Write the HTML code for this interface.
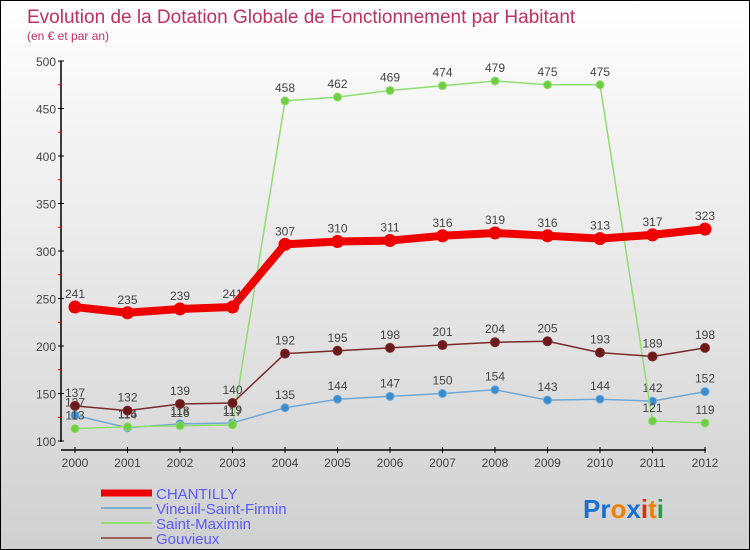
<!DOCTYPE html>
<html><head><meta charset="utf-8"><style>
body{margin:0}
#c{position:relative;width:748px;height:548px;border:1px solid #000;background:linear-gradient(#ffffff,#d0d0d0);font-family:"Liberation Sans",sans-serif;overflow:hidden}
</style></head><body>
<div id="c">
<svg id="s" width="748" height="548"></svg>
</div>
<script>
const years=["2000","2001","2002","2003","2004","2005","2006","2007","2008","2009","2010","2011","2012"];
const yTicks=[100,150,200,250,300,350,400,450,500];
const chantilly=[241,235,239,241,307,310,311,316,319,316,313,317,323];
const vineuil=[127,114,118,119,135,144,147,150,154,143,144,142,152];
const maximin=[113,115,116,117,458,462,469,474,479,475,475,121,119];
const gouvieux=[137,132,139,140,192,195,198,201,204,205,193,189,198];
const seriesNames=["CHANTILLY","Vineuil-Saint-Firmin","Saint-Maximin","Gouvieux"];
const NS="http://www.w3.org/2000/svg";
const s=document.getElementById('s');
const X=i=>74+i*52.5, Y=v=>440-(v-100)*0.95;
function el(t,a,p){const e=document.createElementNS(NS,t);for(const k in a)e.setAttribute(k,a[k]);(p||s).appendChild(e);return e;}
function tx(x,y,str,a){const e=el('text',Object.assign({x:x,y:y},a));e.textContent=str;return e;}
let t=tx(26,22,"Evolution de la Dotation Globale de Fonctionnement par Habitant",{fill:"#c0305e","font-size":19});

t=tx(26,39,"(en € et par an)",{fill:"#c0305e","font-size":12});

let ax=el('line',{x1:60,y1:60,x2:60,y2:441,stroke:"#000","stroke-width":1.5});

yTicks.forEach((v,i)=>{el('line',{x1:57,x2:63,y1:Y(v),y2:Y(v),stroke:"#000"});
 if(i<yTicks.length-1)el('line',{x1:57,x2:60,y1:Y(v+25),y2:Y(v+25),stroke:"#f00"});
 const l=tx(55,Y(v)+5,String(v),{"text-anchor":"end","font-size":12,fill:"#444"});
 });
ax=el('line',{x1:60,y1:449,x2:705,y2:449,stroke:"#000","stroke-width":1.5});

years.forEach((y,i)=>{el('line',{x1:X(i),x2:X(i),y1:446,y2:452,stroke:"#000"});
 const l=tx(X(i),466,y,{"text-anchor":"middle","font-size":12,fill:"#444"});
 });
function series(data,color,w,r,name,dot){
 const g=el('g',{});
 el('polyline',{points:data.map((v,i)=>X(i)+','+Y(v)).join(' '),fill:"none",stroke:color,"stroke-width":w,"stroke-linejoin":"round"},g);
 data.forEach((v,i)=>{const c=el('circle',{cx:X(i),cy:Y(v),r:r,fill:dot,stroke:color},g);
  
  tx(X(i),Y(v)-9,String(v),{"text-anchor":"middle","font-size":12,fill:"#444"},g);});}
series(vineuil,"#6fa8d6",1.5,4,"vineuil","#3a8ccc");
series(maximin,"#90dd70",1.5,4,"saint-maximin","#70cc40");
series(gouvieux,"#7a2a2a",1.5,4.5,"gouvieux","#6a1a1a");
series(chantilly,"#ee0000",8,6,"chantilly","#ee0000");
const lc=["#ee0000","#7ab0d6","#90dd70","#a06060"],lw=[7,2,2,2];
seriesNames.forEach((n,i)=>{const g=el('g',{});
 const yy=492+i*15;el('line',{x1:100,x2:151,y1:yy,y2:yy,stroke:lc[i],"stroke-width":lw[i]},g);
 tx(155,yy+6,n,{"font-size":15,fill:"#5a5aff"},g);});
const lg=el('text',{x:582,y:517,"font-size":26,"font-weight":"bold"});
[["Pr","#1a70d0"],["o","#f08000"],["x","#1a70d0"],["i","#e03000"],["t","#f08000"],["i","#20a040"]].forEach(p=>{const ts=el('tspan',{fill:p[1]},lg);ts.textContent=p[0];});
</script>
</body></html>
